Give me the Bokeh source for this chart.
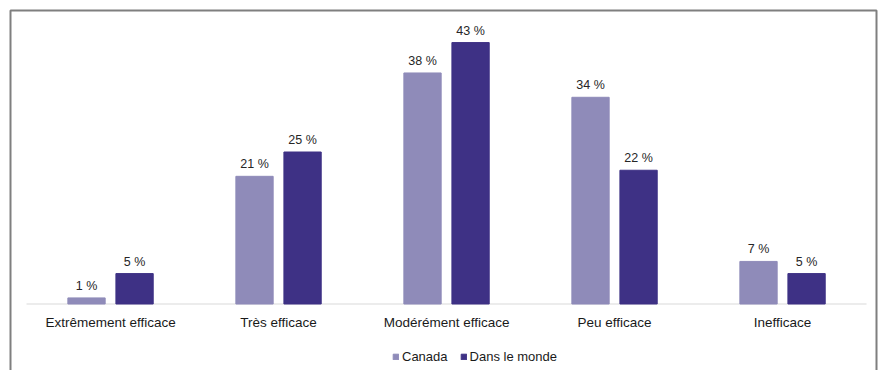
from bokeh.plotting import figure
from bokeh.models import ColumnDataSource, Range1d, BoxAnnotation, Legend, LegendItem
from bokeh.core.properties import value
from bokeh.embed import file_html
from bokeh.resources import INLINE

# Survey answers: perceived effectiveness
categories = ["Extrêmement efficace", "Très efficace", "Modérément efficace",
              "Peu efficace", "Inefficace"]
canada = [1, 21, 38, 34, 7]
monde = [5, 25, 43, 22, 5]
series_names = ["Canada", "Dans le monde"]

COL_CANADA = "#8f8bb9"
COL_MONDE = "#3e3185"
FONT_NAME = "Liberation Sans"
FONT = value(FONT_NAME)

idx = list(range(len(categories)))
offset = 0.143
bar_w = 0.222

src_c = ColumnDataSource(dict(x=[i - offset for i in idx], top=canada,
                              lab=[f"{v} %" for v in canada]))
src_m = ColumnDataSource(dict(x=[i + offset for i in idx], top=monde,
                              lab=[f"{v} %" for v in monde]))
src_cat = ColumnDataSource(dict(x=idx, y=[0] * len(idx), lab=categories))

p = figure(width=882, height=370, output_backend="svg", toolbar_location=None,
           x_axis_type=None, y_axis_type=None,
           x_range=Range1d(-0.655, 4.595), y_range=Range1d(-10.94, 49.92),
           min_border=0, outline_line_color=None)
p.grid.visible = False
p.background_fill_color = "white"
p.border_fill_color = "white"

# outer frame of the chart (its lower edge lies below the visible page)
p.add_layout(BoxAnnotation(left=10, right=876, top=10, bottom=1000,
                           left_units="canvas", right_units="canvas",
                           top_units="canvas", bottom_units="canvas",
                           fill_alpha=0, line_color="#7f7f7f", line_alpha=1,
                           line_width=2))

# category baseline
p.line(x=[idx[0] - 0.5, idx[-1] + 0.5], y=[0, 0], line_color="#d9d9d9", line_width=1.2)

r_c = p.vbar(x="x", top="top", width=bar_w, bottom=0, source=src_c,
             fill_color=COL_CANADA, line_color=COL_CANADA)
r_m = p.vbar(x="x", top="top", width=bar_w, bottom=0, source=src_m,
             fill_color=COL_MONDE, line_color=COL_MONDE)

for s in (src_c, src_m):
    p.text(x="x", y="top", text="lab", source=s, text_align="center",
           text_baseline="middle", y_offset=-12, text_font=FONT,
           text_font_size="12.5px", text_color="#262626")

p.text(x="x", y="y", text="lab", source=src_cat, text_align="center",
       text_baseline="middle", y_offset=19, text_font=FONT,
       text_font_size="13.5px", text_color="#1a1a1a")

legend = Legend(items=[LegendItem(label=series_names[0], renderers=[r_c]),
                       LegendItem(label=series_names[1], renderers=[r_m])],
                orientation="horizontal", location=(392, 6),
                glyph_width=7, glyph_height=7, label_standoff=3, spacing=12,
                padding=0, margin=0, border_line_alpha=0, background_fill_alpha=0,
                label_text_font=FONT_NAME, label_text_font_size="13px",
                label_text_color="#1a1a1a")
p.add_layout(legend, "center")

open("out.html", "w").write(file_html(p, INLINE))
